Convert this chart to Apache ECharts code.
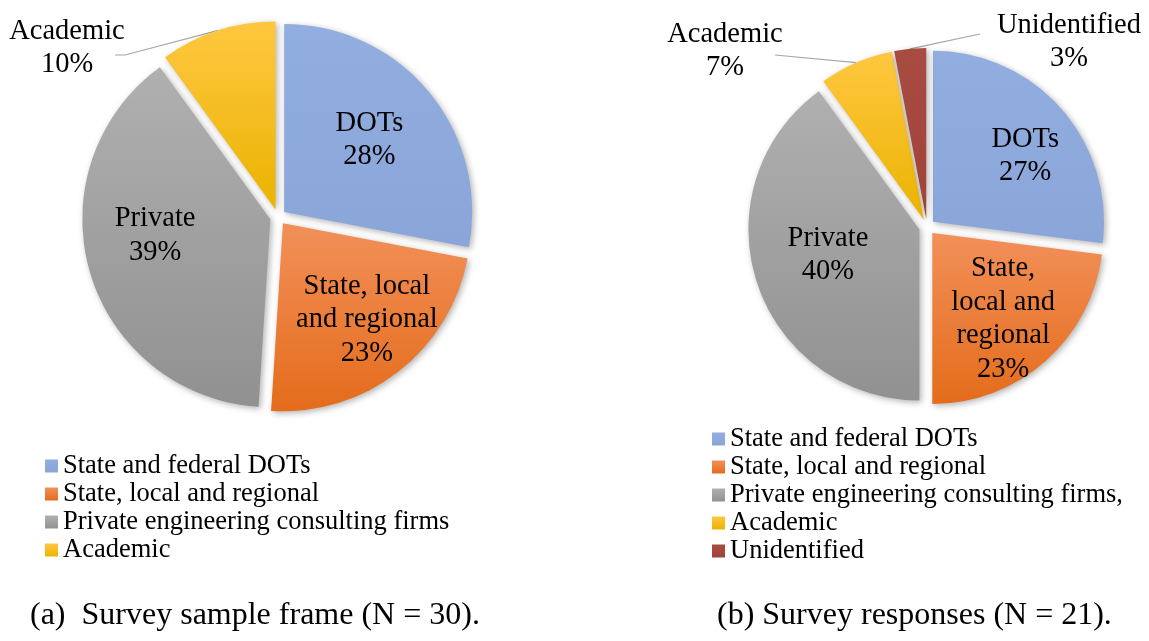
<!DOCTYPE html>
<html>
<head>
<meta charset="utf-8">
<title>Survey sample frame and responses</title>
<script src="https://cdn.jsdelivr.net/npm/echarts@6.0.0/dist/echarts.min.js"></script>
<style>
  html, body { margin: 0; padding: 0; background: #fff; }
  #chart { width: 1149px; height: 641px; }
</style>
</head>
<body>
<div id="chart"></div>
<script>
// (a) survey sample frame
const legendA = ['State and federal DOTs', 'State, local and regional', 'Private engineering consulting firms', 'Academic'];
const sliceTextA = ['DOTs', 'State, local\nand regional', 'Private', 'Academic'];
const valuesA = [28, 23, 39, 10];
const captionA = '(a)  Survey sample frame (N = 30).';

// (b) survey responses
const legendB = ['State and federal DOTs', 'State, local and regional', 'Private engineering consulting firms,', 'Academic', 'Unidentified'];
const sliceTextB = ['DOTs', 'State,\nlocal and\nregional', 'Private', 'Academic', 'Unidentified'];
const valuesB = [27, 23, 40, 7, 3];
const captionB = '(b) Survey responses (N = 21).';

const FONT = '"Liberation Serif", "Times New Roman", serif';

// excel-ish fills, lighter at the top
const fills = [
  ['#92addf', '#8aa5d8'],
  ['#f29059', '#e46c1b'],
  ['#b0b0b0', '#919191'],
  ['#ffc740', '#ebb300'],
  ['#a84c42', '#a0443b']
];
const grad = (c) => ({
  type: 'linear', x: 0, y: 0, x2: 0, y2: 1,
  colorStops: [{ offset: 0, color: c[0] }, { offset: 1, color: c[1] }]
});

const labelFont = { fontFamily: FONT, fontSize: 28.5, lineHeight: 33.5, color: '#000' };
const EXPLODE = 8;

// where the callout labels sit (label centre + bends of the leader line)
const calloutsA = { 3: { x: 67, y: 48, line: [[125, 55], [115, 55]] } };
const calloutsB = {
  3: { x: 725, y: 51, line: [[775, 55]] },
  4: { x: 1069, y: 42, line: [[980, 34]] }
};
// small shifts of the in-slice labels
const nudgeA = [[-4, 2], [13, 5], [-4, -16], [0, 0]];
const nudgeB = [[13, 4], [1, 7], [9, -7], [0, 0], [0, 0]];

function slicePie(names, values, center, radius) {
  return {
    type: 'pie',
    center, radius,
    startAngle: 90,
    clockwise: true,
    selectedMode: 'multiple',
    selectedOffset: EXPLODE,
    avoidLabelOverlap: false,
    emphasis: { disabled: true },
    select: { itemStyle: { borderWidth: 0 } },
    itemStyle: { shadowBlur: 6, shadowOffsetX: 2, shadowOffsetY: 2, shadowColor: 'rgba(0,0,0,0.3)' },
    label: { show: false },
    labelLine: { show: false },
    data: values.map((v, i) => ({
      name: names[i],
      value: v,
      selected: true,
      itemStyle: { color: grad(fills[i]) }
    }))
  };
}

// invisible, larger pie: only carries the in-slice labels so they sit further out
function labelPie(values, texts, callouts, nudge, center, radius) {
  return {
    type: 'pie',
    center, radius,
    startAngle: 90,
    clockwise: true,
    silent: true,
    selectedMode: 'multiple',
    selectedOffset: EXPLODE,
    avoidLabelOverlap: false,
    emphasis: { disabled: true },
    itemStyle: { color: 'rgba(0,0,0,0)' },
    select: { itemStyle: { color: 'rgba(0,0,0,0)', borderWidth: 0 } },
    labelLine: { show: false },
    label: {
      position: 'inside',
      formatter: (p) => texts[p.dataIndex] + '\n' + p.value + '%',
      ...labelFont
    },
    data: values.map((v, i) => ({
      name: 'in-' + center[0] + '-' + i,
      value: v,
      selected: true,
      label: { show: !callouts[i] }
    })),
    labelLayout: (p) => ({ dx: nudge[p.dataIndex][0], dy: nudge[p.dataIndex][1] })
  };
}

// invisible pie at the exploded radius for the outside callouts (no select state, so positions stick)
function calloutPie(values, texts, callouts, center, radius) {
  return {
    type: 'pie',
    center, radius: radius + EXPLODE,
    startAngle: 90,
    clockwise: true,
    silent: true,
    avoidLabelOverlap: false,
    emphasis: { disabled: true },
    itemStyle: { color: 'rgba(0,0,0,0)' },
    label: { show: false },
    labelLine: { show: false },
    data: values.map((v, i) => {
      const out = !!callouts[i];
      return {
        name: 'out-' + center[0] + '-' + i,
        value: v,
        label: out ? { show: true, position: 'outside', formatter: texts[i] + '\n' + v + '%', ...labelFont } : { show: false },
        labelLine: out ? { show: true, lineStyle: { color: '#a6a6a6', width: 1.2 } } : { show: false }
      };
    }),
    labelLayout: (p) => {
      const c = callouts[p.dataIndex];
      if (!c) return {};
      const res = { x: c.x, y: c.y, align: 'center', verticalAlign: 'middle' };
      if (p.labelLinePoints) res.labelLinePoints = [p.labelLinePoints[0], ...c.line];
      return res;
    }
  };
}

const legendBase = {
  orient: 'vertical',
  itemWidth: 13,
  itemHeight: 13,
  itemGap: 0,
  icon: 'rect',
  padding: 0,
  selectedMode: false,
  textStyle: { fontFamily: FONT, fontSize: 26.5, lineHeight: 28, color: '#000' }
};
const captionStyle = { fontFamily: FONT, fontSize: 32, fontWeight: 'normal', color: '#000' };

const centerA = [278, 217], radiusA = 188;
const centerB = [927, 227], radiusB = 171;

const chart = echarts.init(document.getElementById('chart'), null, { renderer: 'canvas' });
chart.setOption({
  animation: false,
  backgroundColor: '#fff',
  title: [
    { text: captionA, left: 30, top: 600, padding: 0, textStyle: captionStyle },
    { text: captionB, left: 717, top: 600, padding: 0, textStyle: captionStyle }
  ],
  legend: [
    { ...legendBase, data: legendA, left: 45, top: 452 },
    { ...legendBase, data: legendB, left: 712, top: 425 }
  ],
  series: [
    slicePie(legendA, valuesA, centerA, radiusA),
    slicePie(legendB, valuesB, centerB, radiusB),
    labelPie(valuesA, sliceTextA, calloutsA, nudgeA, centerA, radiusA * 1.2),
    labelPie(valuesB, sliceTextB, calloutsB, nudgeB, centerB, radiusB * 1.2),
    calloutPie(valuesA, sliceTextA, calloutsA, centerA, radiusA),
    calloutPie(valuesB, sliceTextB, calloutsB, centerB, radiusB)
  ]
});
</script>
</body>
</html>
